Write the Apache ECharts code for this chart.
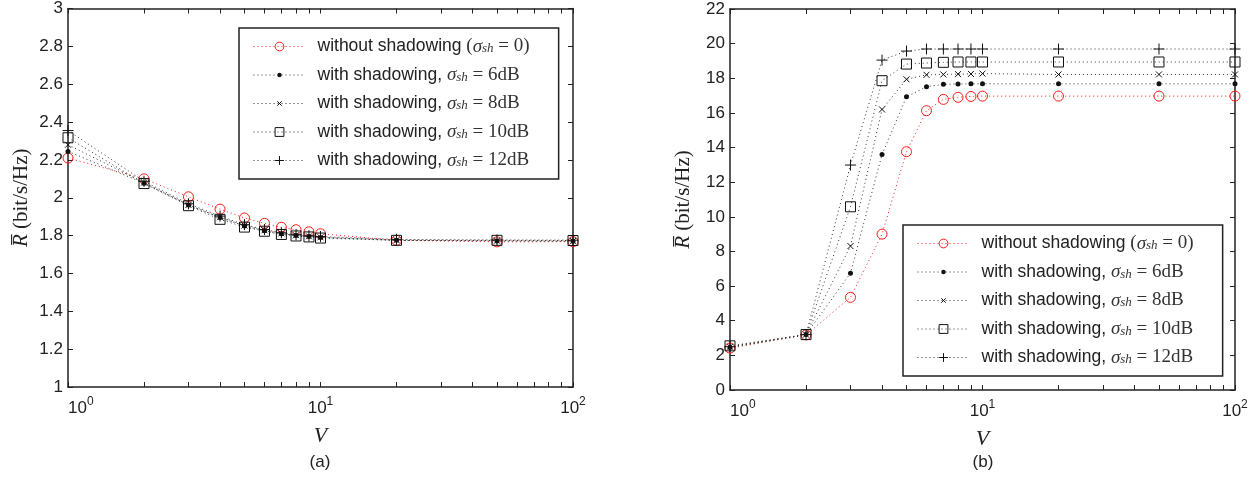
<!DOCTYPE html>
<html><head><meta charset="utf-8">
<script src="https://cdn.jsdelivr.net/npm/echarts@6/dist/echarts.min.js"></script>
<style>html,body{margin:0;padding:0;background:#fff}#c{width:1255px;height:478px}</style>
</head><body><div id="c"></div>
<script>
// ---------------- data ----------------
const V = [1, 2, 3, 4, 5, 6, 7, 8, 9, 10, 20, 50, 100];

// panel (a)
const a_sh0  = [2.21, 2.10, 2.005, 1.94, 1.893, 1.865, 1.844, 1.831, 1.82, 1.81, 1.775, 1.767, 1.768];
const a_sh6  = [2.245, 2.077, 1.962, 1.895, 1.851, 1.826, 1.81, 1.80, 1.795, 1.79, 1.775, 1.772, 1.77];
const a_sh8  = [2.28, 2.08, 1.962, 1.897, 1.853, 1.828, 1.812, 1.802, 1.796, 1.791, 1.776, 1.773, 1.772];
const a_sh10 = [2.317, 2.075, 1.958, 1.886, 1.845, 1.823, 1.806, 1.798, 1.793, 1.787, 1.775, 1.775, 1.774];
const a_sh12 = [2.355, 2.087, 1.968, 1.903, 1.858, 1.832, 1.815, 1.805, 1.799, 1.795, 1.78, 1.777, 1.776];

// panel (b)
const b_sh0  = [2.42, 3.18, 5.35, 9.0, 13.76, 16.13, 16.78, 16.9, 16.95, 16.97, 16.97, 16.97, 16.97];
const b_sh6  = [2.45, 3.2, 6.74, 13.6, 16.93, 17.51, 17.65, 17.67, 17.68, 17.68, 17.68, 17.68, 17.68];
const b_sh8  = [2.5, 3.2, 8.31, 16.2, 17.94, 18.2, 18.22, 18.24, 18.25, 18.27, 18.22, 18.22, 18.22];
const b_sh10 = [2.55, 3.2, 10.58, 17.86, 18.82, 18.88, 18.92, 18.94, 18.94, 18.94, 18.94, 18.94, 18.94];
const b_sh12 = [2.5, 3.2, 12.99, 19.05, 19.57, 19.69, 19.69, 19.69, 19.69, 19.69, 19.69, 19.69, 19.69];

const xTickValues = [1, 2, 3, 4, 5, 6, 7, 8, 9, 10, 20, 30, 40, 50, 60, 70, 80, 90, 100];
const xLabelValues = [1, 10, 100];
const seriesKeys = ['s0', 's6', 's8', 's10', 's12'];
const sigmaText = ['0', '6dB', '8dB', '10dB', '12dB'];

// ---------------- style ----------------
const RED = '#ff1a1a', BLK = '#111111', LN = '#333333', AX = '#222222';
const DOT = [1, 3];
const markers = {
  s0:  {symbol: 'circle', size: 10, fill: 'none', stroke: RED, bw: 1, line: RED},
  s6:  {symbol: 'path://M0,0L0,0M20,20L20,20M5,10A5,5,0,1,1,15,10A5,5,0,1,1,5,10Z', size: 10, fill: BLK, stroke: 'none', bw: 0, line: LN},
  s8:  {symbol: 'path://M0,0L0,0M20,20L20,20M5,5L15,15M15,5L5,15', size: 12, fill: 'none', stroke: BLK, bw: 1, line: LN},
  s10: {symbol: 'rect', size: 10, fill: 'none', stroke: BLK, bw: 1, line: LN},
  s12: {symbol: 'path://M5,0L5,10M0,5L10,5', size: 11, fill: 'none', stroke: BLK, bw: 1, line: LN}
};

function mkSeries(key, vals, xi, yi) {
  const m = markers[key];
  return {
    type: 'line', name: key, xAxisIndex: xi, yAxisIndex: yi,
    data: V.map((v, i) => [v, vals[i]]),
    symbol: m.symbol, symbolSize: m.size, showAllSymbol: true,
    lineStyle: {color: m.line, width: 1, type: DOT},
    itemStyle: {color: m.fill, borderColor: m.stroke, borderWidth: m.bw},
    emphasis: {disabled: true}, silent: true, animation: false
  };
}

const SANS = 'Liberation Sans', SERIF = 'Liberation Serif';

function xAx(gi, pos, main) {
  return {
    type: 'log', logBase: 10, gridIndex: gi, position: pos, min: 1, max: 100,
    axisLine: {show: true, onZero: false, lineStyle: {color: AX, width: 1.5}},
    axisTick: {show: true, inside: true, length: 5, customValues: xTickValues, lineStyle: {color: AX, width: 1}},
    minorTick: {show: false}, splitLine: {show: false},
    axisLabel: {
      show: main, customValues: xLabelValues, margin: 9,
      fontFamily: SANS, fontSize: 17, color: AX, lineHeight: 24,
      alignMinLabel: 'left',
      formatter: v => '10{s|' + Math.round(Math.log10(v)) + '}',
      rich: {s: {fontFamily: SANS, fontSize: 12, lineHeight: 10, verticalAlign: 'top', color: AX}}
    },
    name: main ? 'V' : '', nameLocation: 'middle', nameGap: 32,
    nameTextStyle: {fontFamily: SERIF, fontStyle: 'italic', fontSize: 22, color: AX}
  };
}
function yAx(gi, pos, main, min, max, interval) {
  return {
    type: 'value', gridIndex: gi, position: pos, min: min, max: max, interval: interval,
    axisLine: {show: true, onZero: false, lineStyle: {color: AX, width: 1.5}},
    axisTick: {show: true, inside: true, length: 5, lineStyle: {color: AX, width: 1}},
    splitLine: {show: false},
    axisLabel: {show: main, margin: 5, fontFamily: SANS, fontSize: 17, color: AX},
    name: main ? '{ri|R\u0305} (bit/s/Hz)' : '', nameLocation: 'middle', nameRotate: 90, nameGap: 36,
    nameTextStyle: {fontFamily: SERIF, fontSize: 21, color: AX,
      rich: {ri: {fontFamily: SERIF, fontStyle: 'italic', fontSize: 21, color: AX}}}
  };
}

function legendFmt(name) {
  const i = seriesKeys.indexOf(name);
  if (i === 0) return 'without shadowing {m|(}{mi|σ}{s|sh}{m| = ' + sigmaText[0] + ')}';
  return 'with shadowing, {mi|σ}{s|sh}{m| = ' + sigmaText[i] + '}';
}
function mkLegend(left, top) {
  return {
    orient: 'vertical', left: left, top: top,
    itemWidth: 52, itemHeight: 11, itemGap: 9.5,
    padding: [9, 29, 9, 14],
    borderColor: AX, borderWidth: 1.5, backgroundColor: '#fff',
    selectedMode: false,
    formatter: legendFmt,
    textStyle: {
      fontFamily: SANS, fontSize: 17.5, color: AX, lineHeight: 18, padding: [0, 0, 0, 7],
      rich: {
        m:  {fontFamily: SERIF, fontSize: 19, color: '#333', lineHeight: 18, verticalAlign: 'middle'},
        mi: {fontFamily: SERIF, fontStyle: 'italic', fontSize: 19, color: '#333', lineHeight: 18, verticalAlign: 'middle'},
        s:  {fontFamily: SERIF, fontStyle: 'italic', fontSize: 13, color: '#333', lineHeight: 5, verticalAlign: 'bottom'}
      }
    },
    data: seriesKeys.map(k => {
      const m = markers[k];
      return {name: k,
        itemStyle: {color: m.fill, borderColor: m.stroke, borderWidth: m.bw},
        lineStyle: {color: m.line, width: 1, type: DOT}};
    })
  };
}

const aData = [a_sh0, a_sh6, a_sh8, a_sh10, a_sh12];
const bData = [b_sh0, b_sh6, b_sh8, b_sh10, b_sh12];

const option = {
  backgroundColor: '#fff',
  animation: false,
  grid: [
    {left: 68, top: 7, width: 505, height: 380},
    {left: 730, top: 9, width: 505, height: 381}
  ],
  xAxis: [xAx(0, 'bottom', true), xAx(0, 'top', false), xAx(1, 'bottom', true), xAx(1, 'top', false)],
  yAxis: [yAx(0, 'left', true, 1, 3, 0.2), yAx(0, 'right', false, 1, 3, 0.2),
          yAx(1, 'left', true, 0, 22, 2), yAx(1, 'right', false, 0, 22, 2)],
  legend: [mkLegend(239, 28), mkLegend(903, 225)],
  series: [
    ...seriesKeys.map((k, i) => mkSeries(k, aData[i], 0, 0)),
    ...seriesKeys.map((k, i) => mkSeries(k, bData[i], 2, 2))
  ],
  graphic: [
    {type: 'text', x: 320, y: 462, style: {text: '(a)', fontFamily: SANS, fontSize: 17, fill: AX, align: 'center', verticalAlign: 'middle'}},
    {type: 'text', x: 983, y: 462, style: {text: '(b)', fontFamily: SANS, fontSize: 17, fill: AX, align: 'center', verticalAlign: 'middle'}}
  ]
};

const chart = echarts.init(document.getElementById('c'), null, {renderer: 'canvas'});
chart.setOption(option);
</script>
</body></html>
